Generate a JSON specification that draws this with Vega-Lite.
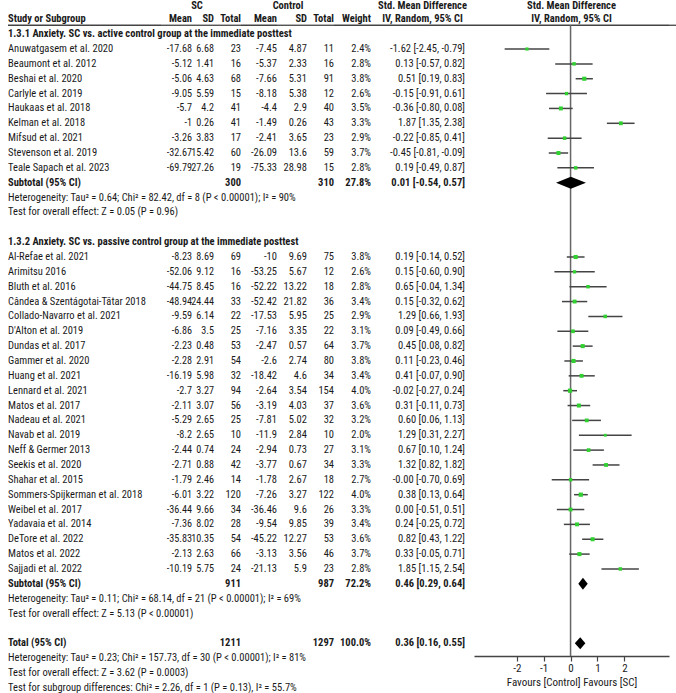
{
  "$schema": "https://vega.github.io/schema/vega-lite/v6.json",
  "padding": {"left": 7, "top": 0, "right": 0, "bottom": 0},
  "spacing": 0,
  "bounds": "flush",
  "config": {
    "view": {"stroke": null},
    "text": {"font": "Roboto Condensed, Noto Sans Condensed, DejaVu Sans Condensed, Liberation Sans Narrow, Arial Narrow, Liberation Sans, sans-serif", "fontSize": 10.5, "color": "#1a1a1a"},
    "axis": {"labelFont": "Roboto Condensed, Noto Sans Condensed, DejaVu Sans Condensed, Liberation Sans Narrow, Arial Narrow, Liberation Sans, sans-serif", "titleFont": "Roboto Condensed, Noto Sans Condensed, DejaVu Sans Condensed, Liberation Sans Narrow, Arial Narrow, Liberation Sans, sans-serif"}
  },
  "resolve": {"scale": {"x": "independent", "y": "independent"}},
  "datasets": {
    "rows": [
      {"row": 0, "type": "head", "name": "1.3.1 Anxiety. SC vs. active control group at the immediate posttest"},
      {"row": 1, "type": "study", "name": "Anuwatgasem et al. 2020", "m1": "-17.68", "sd1": "6.68", "n1": "23", "m2": "-7.45", "sd2": "4.87", "n2": "11", "w": "2.4%", "wt": 2.4, "ci": "-1.62 [-2.45, -0.79]", "est": -1.62, "lo": -2.45, "hi": -0.79},
      {"row": 2, "type": "study", "name": "Beaumont et al. 2012", "m1": "-5.12", "sd1": "1.41", "n1": "16", "m2": "-5.37", "sd2": "2.33", "n2": "16", "w": "2.8%", "wt": 2.8, "ci": "0.13 [-0.57, 0.82]", "est": 0.13, "lo": -0.57, "hi": 0.82},
      {"row": 3, "type": "study", "name": "Beshai et al. 2020", "m1": "-5.06", "sd1": "4.63", "n1": "68", "m2": "-7.66", "sd2": "5.31", "n2": "91", "w": "3.8%", "wt": 3.8, "ci": "0.51 [0.19, 0.83]", "est": 0.51, "lo": 0.19, "hi": 0.83},
      {"row": 4, "type": "study", "name": "Carlyle et al. 2019", "m1": "-9.05", "sd1": "5.59", "n1": "15", "m2": "-8.18", "sd2": "5.38", "n2": "12", "w": "2.6%", "wt": 2.6, "ci": "-0.15 [-0.91, 0.61]", "est": -0.15, "lo": -0.91, "hi": 0.61},
      {"row": 5, "type": "study", "name": "Haukaas et al. 2018", "m1": "-5.7", "sd1": "4.2", "n1": "41", "m2": "-4.4", "sd2": "2.9", "n2": "40", "w": "3.5%", "wt": 3.5, "ci": "-0.36 [-0.80, 0.08]", "est": -0.36, "lo": -0.80, "hi": 0.08},
      {"row": 6, "type": "study", "name": "Kelman et al. 2018", "m1": "-1", "sd1": "0.26", "n1": "41", "m2": "-1.49", "sd2": "0.26", "n2": "43", "w": "3.3%", "wt": 3.3, "ci": "1.87 [1.35, 2.38]", "est": 1.87, "lo": 1.35, "hi": 2.38},
      {"row": 7, "type": "study", "name": "Mifsud et al. 2021", "m1": "-3.26", "sd1": "3.83", "n1": "17", "m2": "-2.41", "sd2": "3.65", "n2": "23", "w": "2.9%", "wt": 2.9, "ci": "-0.22 [-0.85, 0.41]", "est": -0.22, "lo": -0.85, "hi": 0.41},
      {"row": 8, "type": "study", "name": "Stevenson et al. 2019", "m1": "-32.67", "sd1": "15.42", "n1": "60", "m2": "-26.09", "sd2": "13.6", "n2": "59", "w": "3.7%", "wt": 3.7, "ci": "-0.45 [-0.81, -0.09]", "est": -0.45, "lo": -0.81, "hi": -0.09},
      {"row": 9, "type": "study", "name": "Teale Sapach et al. 2023", "m1": "-69.79", "sd1": "27.26", "n1": "19", "m2": "-75.33", "sd2": "28.98", "n2": "15", "w": "2.8%", "wt": 2.8, "ci": "0.19 [-0.49, 0.87]", "est": 0.19, "lo": -0.49, "hi": 0.87},
      {"row": 10, "type": "sub", "name": "Subtotal (95% CI)", "n1": "300", "n2": "310", "w": "27.8%", "ci": "0.01 [-0.54, 0.57]", "est": 0.01, "lo": -0.54, "hi": 0.57},
      {"row": 11, "type": "note", "name": "Heterogeneity: Tau² = 0.64; Chi² = 82.42, df = 8 (P < 0.00001); I² = 90%"},
      {"row": 12, "type": "note", "name": "Test for overall effect: Z = 0.05 (P = 0.96)"},
      {"row": 14, "type": "head", "name": "1.3.2 Anxiety. SC vs. passive control group at the immediate posttest"},
      {"row": 15, "type": "study", "name": "Al-Refae et al. 2021", "m1": "-8.23", "sd1": "8.69", "n1": "69", "m2": "-10", "sd2": "9.69", "n2": "75", "w": "3.8%", "wt": 3.8, "ci": "0.19 [-0.14, 0.52]", "est": 0.19, "lo": -0.14, "hi": 0.52},
      {"row": 16, "type": "study", "name": "Arimitsu 2016", "m1": "-52.06", "sd1": "9.12", "n1": "16", "m2": "-53.25", "sd2": "5.67", "n2": "12", "w": "2.6%", "wt": 2.6, "ci": "0.15 [-0.60, 0.90]", "est": 0.15, "lo": -0.60, "hi": 0.90},
      {"row": 17, "type": "study", "name": "Bluth et al. 2016", "m1": "-44.75", "sd1": "8.45", "n1": "16", "m2": "-52.22", "sd2": "13.22", "n2": "18", "w": "2.8%", "wt": 2.8, "ci": "0.65 [-0.04, 1.34]", "est": 0.65, "lo": -0.04, "hi": 1.34},
      {"row": 18, "type": "study", "name": "Cândea & Szentágotai-Tătar 2018", "m1": "-48.94", "sd1": "24.44", "n1": "33", "m2": "-52.42", "sd2": "21.82", "n2": "36", "w": "3.4%", "wt": 3.4, "ci": "0.15 [-0.32, 0.62]", "est": 0.15, "lo": -0.32, "hi": 0.62},
      {"row": 19, "type": "study", "name": "Collado-Navarro et al. 2021", "m1": "-9.59", "sd1": "6.14", "n1": "22", "m2": "-17.53", "sd2": "5.95", "n2": "25", "w": "2.9%", "wt": 2.9, "ci": "1.29 [0.66, 1.93]", "est": 1.29, "lo": 0.66, "hi": 1.93},
      {"row": 20, "type": "study", "name": "D'Alton et al. 2019", "m1": "-6.86", "sd1": "3.5", "n1": "25", "m2": "-7.16", "sd2": "3.35", "n2": "22", "w": "3.1%", "wt": 3.1, "ci": "0.09 [-0.49, 0.66]", "est": 0.09, "lo": -0.49, "hi": 0.66},
      {"row": 21, "type": "study", "name": "Dundas et al. 2017", "m1": "-2.23", "sd1": "0.48", "n1": "53", "m2": "-2.47", "sd2": "0.57", "n2": "64", "w": "3.7%", "wt": 3.7, "ci": "0.45 [0.08, 0.82]", "est": 0.45, "lo": 0.08, "hi": 0.82},
      {"row": 22, "type": "study", "name": "Gammer et al. 2020", "m1": "-2.28", "sd1": "2.91", "n1": "54", "m2": "-2.6", "sd2": "2.74", "n2": "80", "w": "3.8%", "wt": 3.8, "ci": "0.11 [-0.23, 0.46]", "est": 0.11, "lo": -0.23, "hi": 0.46},
      {"row": 23, "type": "study", "name": "Huang et al. 2021", "m1": "-16.19", "sd1": "5.98", "n1": "32", "m2": "-18.42", "sd2": "4.6", "n2": "34", "w": "3.4%", "wt": 3.4, "ci": "0.41 [-0.07, 0.90]", "est": 0.41, "lo": -0.07, "hi": 0.90},
      {"row": 24, "type": "study", "name": "Lennard et al. 2021", "m1": "-2.7", "sd1": "3.27", "n1": "94", "m2": "-2.64", "sd2": "3.54", "n2": "154", "w": "4.0%", "wt": 4.0, "ci": "-0.02 [-0.27, 0.24]", "est": -0.02, "lo": -0.27, "hi": 0.24},
      {"row": 25, "type": "study", "name": "Matos et al. 2017", "m1": "-2.11", "sd1": "3.07", "n1": "56", "m2": "-3.19", "sd2": "4.03", "n2": "37", "w": "3.6%", "wt": 3.6, "ci": "0.31 [-0.11, 0.73]", "est": 0.31, "lo": -0.11, "hi": 0.73},
      {"row": 26, "type": "study", "name": "Nadeau et al. 2021", "m1": "-5.29", "sd1": "2.65", "n1": "25", "m2": "-7.81", "sd2": "5.02", "n2": "32", "w": "3.2%", "wt": 3.2, "ci": "0.60 [0.06, 1.13]", "est": 0.60, "lo": 0.06, "hi": 1.13},
      {"row": 27, "type": "study", "name": "Navab et al. 2019", "m1": "-8.2", "sd1": "2.65", "n1": "10", "m2": "-11.9", "sd2": "2.84", "n2": "10", "w": "2.0%", "wt": 2.0, "ci": "1.29 [0.31, 2.27]", "est": 1.29, "lo": 0.31, "hi": 2.27},
      {"row": 28, "type": "study", "name": "Neff & Germer 2013", "m1": "-2.44", "sd1": "0.74", "n1": "24", "m2": "-2.94", "sd2": "0.73", "n2": "27", "w": "3.1%", "wt": 3.1, "ci": "0.67 [0.10, 1.24]", "est": 0.67, "lo": 0.10, "hi": 1.24},
      {"row": 29, "type": "study", "name": "Seekis et al. 2020", "m1": "-2.71", "sd1": "0.88", "n1": "42", "m2": "-3.77", "sd2": "0.67", "n2": "34", "w": "3.3%", "wt": 3.3, "ci": "1.32 [0.82, 1.82]", "est": 1.32, "lo": 0.82, "hi": 1.82},
      {"row": 30, "type": "study", "name": "Shahar et al. 2015", "m1": "-1.79", "sd1": "2.46", "n1": "14", "m2": "-1.78", "sd2": "2.67", "n2": "18", "w": "2.7%", "wt": 2.7, "ci": "-0.00 [-0.70, 0.69]", "est": 0.0, "lo": -0.70, "hi": 0.69},
      {"row": 31, "type": "study", "name": "Sommers-Spijkerman et al. 2018", "m1": "-6.01", "sd1": "3.22", "n1": "120", "m2": "-7.26", "sd2": "3.27", "n2": "122", "w": "4.0%", "wt": 4.0, "ci": "0.38 [0.13, 0.64]", "est": 0.38, "lo": 0.13, "hi": 0.64},
      {"row": 32, "type": "study", "name": "Weibel et al. 2017", "m1": "-36.44", "sd1": "9.66", "n1": "34", "m2": "-36.46", "sd2": "9.6", "n2": "26", "w": "3.3%", "wt": 3.3, "ci": "0.00 [-0.51, 0.51]", "est": 0.0, "lo": -0.51, "hi": 0.51},
      {"row": 33, "type": "study", "name": "Yadavaia et al. 2014", "m1": "-7.36", "sd1": "8.02", "n1": "28", "m2": "-9.54", "sd2": "9.85", "n2": "39", "w": "3.4%", "wt": 3.4, "ci": "0.24 [-0.25, 0.72]", "est": 0.24, "lo": -0.25, "hi": 0.72},
      {"row": 34, "type": "study", "name": "DeTore et al. 2022", "m1": "-35.83", "sd1": "10.35", "n1": "54", "m2": "-45.22", "sd2": "12.27", "n2": "53", "w": "3.6%", "wt": 3.6, "ci": "0.82 [0.43, 1.22]", "est": 0.82, "lo": 0.43, "hi": 1.22},
      {"row": 35, "type": "study", "name": "Matos et al. 2022", "m1": "-2.13", "sd1": "2.63", "n1": "66", "m2": "-3.13", "sd2": "3.56", "n2": "46", "w": "3.7%", "wt": 3.7, "ci": "0.33 [-0.05, 0.71]", "est": 0.33, "lo": -0.05, "hi": 0.71},
      {"row": 36, "type": "study", "name": "Sajjadi et al. 2022", "m1": "-10.19", "sd1": "5.75", "n1": "24", "m2": "-21.13", "sd2": "5.9", "n2": "23", "w": "2.8%", "wt": 2.8, "ci": "1.85 [1.15, 2.54]", "est": 1.85, "lo": 1.15, "hi": 2.54},
      {"row": 37, "type": "sub", "name": "Subtotal (95% CI)", "n1": "911", "n2": "987", "w": "72.2%", "ci": "0.46 [0.29, 0.64]", "est": 0.46, "lo": 0.29, "hi": 0.64},
      {"row": 38, "type": "note", "name": "Heterogeneity: Tau² = 0.11; Chi² = 68.14, df = 21 (P < 0.00001); I² = 69%"},
      {"row": 39, "type": "note", "name": "Test for overall effect: Z = 5.13 (P < 0.00001)"},
      {"row": 41, "type": "sub", "name": "Total (95% CI)", "n1": "1211", "n2": "1297", "w": "100.0%", "ci": "0.36 [0.16, 0.55]", "est": 0.36, "lo": 0.16, "hi": 0.55},
      {"row": 42, "type": "note", "name": "Heterogeneity: Tau² = 0.23; Chi² = 157.73, df = 30 (P < 0.00001); I² = 81%"},
      {"row": 43, "type": "note", "name": "Test for overall effect: Z = 3.62 (P = 0.0003)"},
      {"row": 44, "type": "note", "name": "Test for subgroup differences: Chi² = 2.26, df = 1 (P = 0.13), I² = 55.7%"}
    ]
  },
  "hconcat": [
    {
      "width": 153, "height": 693, "data": {"name": "rows"},
      "layer": [
        {"data": {"values": [{"row": -0.6}]}, "mark": {"type": "rule", "color": "#444", "strokeWidth": 1.3}, "encoding": {"y": {"field": "row", "type": "quantitative", "scale": {"domain": [-2.3, 44.35], "reverse": true, "nice": false, "zero": false}, "axis": null}}},
        {"data": {"values": [{"row": -1, "h": "Study or Subgroup"}]}, "mark": {"type": "text", "align": "left", "baseline": "middle", "fontWeight": "bold"}, "encoding": {"x": {"value": 0}, "y": {"field": "row", "type": "quantitative", "scale": {"domain": [-2.3, 44.35], "reverse": true, "nice": false, "zero": false}, "axis": null}, "text": {"field": "h"}}},
        {"transform": [{"filter": "datum.type === 'study' || datum.type === 'note'"}], "mark": {"type": "text", "align": "left", "baseline": "middle"}, "encoding": {"x": {"value": 0}, "y": {"field": "row", "type": "quantitative", "scale": {"domain": [-2.3, 44.35], "reverse": true, "nice": false, "zero": false}, "axis": null}, "text": {"field": "name"}}},
        {"transform": [{"filter": "datum.type === 'head' || datum.type === 'sub'"}], "mark": {"type": "text", "align": "left", "baseline": "middle", "fontWeight": "bold"}, "encoding": {"x": {"value": 0}, "y": {"field": "row", "type": "quantitative", "scale": {"domain": [-2.3, 44.35], "reverse": true, "nice": false, "zero": false}, "axis": null}, "text": {"field": "name"}}}
      ]
    },
    {
      "width": 31, "height": 693, "data": {"name": "rows"},
      "layer": [
        {"data": {"values": [{"row": -0.6}]}, "mark": {"type": "rule", "color": "#444", "strokeWidth": 1.3}, "encoding": {"y": {"field": "row", "type": "quantitative", "scale": {"domain": [-2.3, 44.35], "reverse": true, "nice": false, "zero": false}, "axis": null}}},
        {"data": {"values": [{"row": -1, "h": "Mean"}]}, "mark": {"type": "text", "align": "right", "baseline": "middle", "fontWeight": "bold"}, "encoding": {"x": {"value": "width"}, "y": {"field": "row", "type": "quantitative", "scale": {"domain": [-2.3, 44.35], "reverse": true, "nice": false, "zero": false}, "axis": null}, "text": {"field": "h"}}},
        {"transform": [{"filter": "datum.type === 'study'"}], "mark": {"type": "text", "align": "right", "baseline": "middle", "fontSize": 10.2}, "encoding": {"x": {"value": "width"}, "y": {"field": "row", "type": "quantitative", "scale": {"domain": [-2.3, 44.35], "reverse": true, "nice": false, "zero": false}, "axis": null}, "text": {"field": "m1"}}}
      ]
    },
    {
      "width": 22, "height": 693, "data": {"name": "rows"},
      "layer": [
        {"data": {"values": [{"row": -0.6}]}, "mark": {"type": "rule", "color": "#444", "strokeWidth": 1.3}, "encoding": {"y": {"field": "row", "type": "quantitative", "scale": {"domain": [-2.3, 44.35], "reverse": true, "nice": false, "zero": false}, "axis": null}}},
        {"data": {"values": [{"row": -1.9, "h": "SC"}]}, "mark": {"type": "text", "align": "center", "baseline": "middle", "fontWeight": "bold", "dx": -6}, "encoding": {"y": {"field": "row", "type": "quantitative", "scale": {"domain": [-2.3, 44.35], "reverse": true, "nice": false, "zero": false}, "axis": null}, "text": {"field": "h"}}},
        {"data": {"values": [{"row": -1, "h": "SD"}]}, "mark": {"type": "text", "align": "right", "baseline": "middle", "fontWeight": "bold"}, "encoding": {"x": {"value": "width"}, "y": {"field": "row", "type": "quantitative", "scale": {"domain": [-2.3, 44.35], "reverse": true, "nice": false, "zero": false}, "axis": null}, "text": {"field": "h"}}},
        {"transform": [{"filter": "datum.type === 'study'"}], "mark": {"type": "text", "align": "right", "baseline": "middle", "fontSize": 10.2}, "encoding": {"x": {"value": "width"}, "y": {"field": "row", "type": "quantitative", "scale": {"domain": [-2.3, 44.35], "reverse": true, "nice": false, "zero": false}, "axis": null}, "text": {"field": "sd1"}}}
      ]
    },
    {
      "width": 27, "height": 693, "data": {"name": "rows"},
      "layer": [
        {"data": {"values": [{"row": -0.6}]}, "mark": {"type": "rule", "color": "#444", "strokeWidth": 1.3}, "encoding": {"y": {"field": "row", "type": "quantitative", "scale": {"domain": [-2.3, 44.35], "reverse": true, "nice": false, "zero": false}, "axis": null}}},
        {"data": {"values": [{"row": -1, "h": "Total"}]}, "mark": {"type": "text", "align": "right", "baseline": "middle", "fontWeight": "bold"}, "encoding": {"x": {"value": "width"}, "y": {"field": "row", "type": "quantitative", "scale": {"domain": [-2.3, 44.35], "reverse": true, "nice": false, "zero": false}, "axis": null}, "text": {"field": "h"}}},
        {"transform": [{"filter": "datum.type === 'study'"}], "mark": {"type": "text", "align": "right", "baseline": "middle"}, "encoding": {"x": {"value": "width"}, "y": {"field": "row", "type": "quantitative", "scale": {"domain": [-2.3, 44.35], "reverse": true, "nice": false, "zero": false}, "axis": null}, "text": {"field": "n1"}}},
        {"transform": [{"filter": "datum.type === 'sub'"}], "mark": {"type": "text", "align": "right", "baseline": "middle", "fontWeight": "bold"}, "encoding": {"x": {"value": "width"}, "y": {"field": "row", "type": "quantitative", "scale": {"domain": [-2.3, 44.35], "reverse": true, "nice": false, "zero": false}, "axis": null}, "text": {"field": "n1"}}}
      ]
    },
    {
      "width": 36, "height": 693, "data": {"name": "rows"},
      "layer": [
        {"data": {"values": [{"row": -0.6}]}, "mark": {"type": "rule", "color": "#444", "strokeWidth": 1.3}, "encoding": {"y": {"field": "row", "type": "quantitative", "scale": {"domain": [-2.3, 44.35], "reverse": true, "nice": false, "zero": false}, "axis": null}}},
        {"data": {"values": [{"row": -1, "h": "Mean"}]}, "mark": {"type": "text", "align": "right", "baseline": "middle", "fontWeight": "bold"}, "encoding": {"x": {"value": "width"}, "y": {"field": "row", "type": "quantitative", "scale": {"domain": [-2.3, 44.35], "reverse": true, "nice": false, "zero": false}, "axis": null}, "text": {"field": "h"}}},
        {"transform": [{"filter": "datum.type === 'study'"}], "mark": {"type": "text", "align": "right", "baseline": "middle"}, "encoding": {"x": {"value": "width"}, "y": {"field": "row", "type": "quantitative", "scale": {"domain": [-2.3, 44.35], "reverse": true, "nice": false, "zero": false}, "axis": null}, "text": {"field": "m2"}}}
      ]
    },
    {
      "width": 30, "height": 693, "data": {"name": "rows"},
      "layer": [
        {"data": {"values": [{"row": -0.6}]}, "mark": {"type": "rule", "color": "#444", "strokeWidth": 1.3}, "encoding": {"y": {"field": "row", "type": "quantitative", "scale": {"domain": [-2.3, 44.35], "reverse": true, "nice": false, "zero": false}, "axis": null}}},
        {"data": {"values": [{"row": -1.9, "h": "Control"}]}, "mark": {"type": "text", "align": "center", "baseline": "middle", "fontWeight": "bold", "dx": -4}, "encoding": {"y": {"field": "row", "type": "quantitative", "scale": {"domain": [-2.3, 44.35], "reverse": true, "nice": false, "zero": false}, "axis": null}, "text": {"field": "h"}}},
        {"data": {"values": [{"row": -1, "h": "SD"}]}, "mark": {"type": "text", "align": "right", "baseline": "middle", "fontWeight": "bold"}, "encoding": {"x": {"value": "width"}, "y": {"field": "row", "type": "quantitative", "scale": {"domain": [-2.3, 44.35], "reverse": true, "nice": false, "zero": false}, "axis": null}, "text": {"field": "h"}}},
        {"transform": [{"filter": "datum.type === 'study'"}], "mark": {"type": "text", "align": "right", "baseline": "middle"}, "encoding": {"x": {"value": "width"}, "y": {"field": "row", "type": "quantitative", "scale": {"domain": [-2.3, 44.35], "reverse": true, "nice": false, "zero": false}, "axis": null}, "text": {"field": "sd2"}}}
      ]
    },
    {
      "width": 27, "height": 693, "data": {"name": "rows"},
      "layer": [
        {"data": {"values": [{"row": -0.6}]}, "mark": {"type": "rule", "color": "#444", "strokeWidth": 1.3}, "encoding": {"y": {"field": "row", "type": "quantitative", "scale": {"domain": [-2.3, 44.35], "reverse": true, "nice": false, "zero": false}, "axis": null}}},
        {"data": {"values": [{"row": -1, "h": "Total"}]}, "mark": {"type": "text", "align": "right", "baseline": "middle", "fontWeight": "bold"}, "encoding": {"x": {"value": "width"}, "y": {"field": "row", "type": "quantitative", "scale": {"domain": [-2.3, 44.35], "reverse": true, "nice": false, "zero": false}, "axis": null}, "text": {"field": "h"}}},
        {"transform": [{"filter": "datum.type === 'study'"}], "mark": {"type": "text", "align": "right", "baseline": "middle"}, "encoding": {"x": {"value": "width"}, "y": {"field": "row", "type": "quantitative", "scale": {"domain": [-2.3, 44.35], "reverse": true, "nice": false, "zero": false}, "axis": null}, "text": {"field": "n2"}}},
        {"transform": [{"filter": "datum.type === 'sub'"}], "mark": {"type": "text", "align": "right", "baseline": "middle", "fontWeight": "bold"}, "encoding": {"x": {"value": "width"}, "y": {"field": "row", "type": "quantitative", "scale": {"domain": [-2.3, 44.35], "reverse": true, "nice": false, "zero": false}, "axis": null}, "text": {"field": "n2"}}}
      ]
    },
    {
      "width": 37, "height": 693, "data": {"name": "rows"},
      "layer": [
        {"data": {"values": [{"row": -0.6}]}, "mark": {"type": "rule", "color": "#444", "strokeWidth": 1.3}, "encoding": {"y": {"field": "row", "type": "quantitative", "scale": {"domain": [-2.3, 44.35], "reverse": true, "nice": false, "zero": false}, "axis": null}}},
        {"data": {"values": [{"row": -1, "h": "Weight"}]}, "mark": {"type": "text", "align": "right", "baseline": "middle", "fontWeight": "bold"}, "encoding": {"x": {"value": "width"}, "y": {"field": "row", "type": "quantitative", "scale": {"domain": [-2.3, 44.35], "reverse": true, "nice": false, "zero": false}, "axis": null}, "text": {"field": "h"}}},
        {"transform": [{"filter": "datum.type === 'study'"}], "mark": {"type": "text", "align": "right", "baseline": "middle"}, "encoding": {"x": {"value": "width"}, "y": {"field": "row", "type": "quantitative", "scale": {"domain": [-2.3, 44.35], "reverse": true, "nice": false, "zero": false}, "axis": null}, "text": {"field": "w"}}},
        {"transform": [{"filter": "datum.type === 'sub'"}], "mark": {"type": "text", "align": "right", "baseline": "middle", "fontWeight": "bold"}, "encoding": {"x": {"value": "width"}, "y": {"field": "row", "type": "quantitative", "scale": {"domain": [-2.3, 44.35], "reverse": true, "nice": false, "zero": false}, "axis": null}, "text": {"field": "w"}}}
      ]
    },
    {
      "width": 103, "height": 693, "data": {"name": "rows"},
      "layer": [
        {"data": {"values": [{"row": -0.6}]}, "mark": {"type": "rule", "color": "#444", "strokeWidth": 1.3}, "encoding": {"y": {"field": "row", "type": "quantitative", "scale": {"domain": [-2.3, 44.35], "reverse": true, "nice": false, "zero": false}, "axis": null}}},
        {"data": {"values": [{"row": -1.9, "h": "Std. Mean Difference"}, {"row": -1, "h": "IV, Random, 95% CI"}]}, "mark": {"type": "text", "align": "center", "baseline": "middle", "fontWeight": "bold"}, "encoding": {"y": {"field": "row", "type": "quantitative", "scale": {"domain": [-2.3, 44.35], "reverse": true, "nice": false, "zero": false}, "axis": null}, "text": {"field": "h"}}},
        {"transform": [{"filter": "datum.type === 'study'"}], "mark": {"type": "text", "align": "right", "baseline": "middle", "dx": -9}, "encoding": {"x": {"value": "width"}, "y": {"field": "row", "type": "quantitative", "scale": {"domain": [-2.3, 44.35], "reverse": true, "nice": false, "zero": false}, "axis": null}, "text": {"field": "ci"}}},
        {"transform": [{"filter": "datum.type === 'sub'"}], "mark": {"type": "text", "align": "right", "baseline": "middle", "fontWeight": "bold", "dx": -9}, "encoding": {"x": {"value": "width"}, "y": {"field": "row", "type": "quantitative", "scale": {"domain": [-2.3, 44.35], "reverse": true, "nice": false, "zero": false}, "axis": null}, "text": {"field": "ci"}}}
      ]
    },
    {
      "width": 195, "height": 656, "data": {"name": "rows"},
      "layer": [
        {"data": {"values": [{"row": -0.6}]}, "mark": {"type": "rule", "color": "#444", "strokeWidth": 1.3}, "encoding": {"y": {"field": "row", "type": "quantitative", "scale": {"domain": [-2.3, 41.86], "reverse": true, "nice": false, "zero": false}, "axis": null}}},
        {"data": {"values": [{"row": -1.9, "h": "Std. Mean Difference"}, {"row": -1, "h": "IV, Random, 95% CI"}]}, "mark": {"type": "text", "align": "center", "baseline": "middle", "fontWeight": "bold"}, "encoding": {"y": {"field": "row", "type": "quantitative", "scale": {"domain": [-2.3, 41.86], "reverse": true, "nice": false, "zero": false}, "axis": null}, "text": {"field": "h"}}},
        {"data": {"values": [{"x": 0, "top": -0.6, "bottom": 41.86}]}, "mark": {"type": "rule", "color": "#666", "strokeWidth": 1.5}, "encoding": {
          "x": {"field": "x", "type": "quantitative", "scale": {"domain": [-3.59, 3.66], "nice": false, "zero": false}, "axis": {"values": [-2, -1, 0, 1, 2], "labelExpr": "'' + datum.value", "title": "Favours [Control]   Favours [SC]", "labelFontSize": 11, "titleFontSize": 11, "titleFontWeight": "normal", "titleColor": "#1a1a1a", "labelColor": "#1a1a1a", "domainColor": "#444", "domainWidth": 1.5, "tickColor": "#444", "tickWidth": 1.2, "tickSize": 5, "labelPadding": 1, "titlePadding": 3, "grid": false, "labelFlush": false}},
          "y": {"field": "top", "type": "quantitative", "scale": {"domain": [-2.3, 41.86], "reverse": true, "nice": false, "zero": false}, "axis": null},
          "y2": {"field": "bottom"}}},
        {"transform": [{"filter": "datum.type === 'study'"}], "mark": {"type": "rule", "color": "#444", "strokeWidth": 1.5}, "encoding": {
          "x": {"field": "lo", "type": "quantitative", "scale": {"domain": [-3.59, 3.66], "nice": false, "zero": false}, "axis": {"values": [-2, -1, 0, 1, 2], "labelExpr": "'' + datum.value", "title": "Favours [Control]   Favours [SC]", "labelFontSize": 11, "titleFontSize": 11, "titleFontWeight": "normal", "titleColor": "#1a1a1a", "labelColor": "#1a1a1a", "domainColor": "#444", "domainWidth": 1.5, "tickColor": "#444", "tickWidth": 1.2, "tickSize": 5, "labelPadding": 1, "titlePadding": 3, "grid": false, "labelFlush": false}},
          "x2": {"field": "hi"},
          "y": {"field": "row", "type": "quantitative", "scale": {"domain": [-2.3, 41.86], "reverse": true, "nice": false, "zero": false}, "axis": null}}},
        {"transform": [{"filter": "datum.type === 'study'"}], "mark": {"type": "square", "filled": true, "color": "#2fd02f", "opacity": 1}, "encoding": {
          "x": {"field": "est", "type": "quantitative", "scale": {"domain": [-3.59, 3.66], "nice": false, "zero": false}, "axis": {"values": [-2, -1, 0, 1, 2], "labelExpr": "'' + datum.value", "title": "Favours [Control]   Favours [SC]", "labelFontSize": 11, "titleFontSize": 11, "titleFontWeight": "normal", "titleColor": "#1a1a1a", "labelColor": "#1a1a1a", "domainColor": "#444", "domainWidth": 1.5, "tickColor": "#444", "tickWidth": 1.2, "tickSize": 5, "labelPadding": 1, "titlePadding": 3, "grid": false, "labelFlush": false}},
          "y": {"field": "row", "type": "quantitative", "scale": {"domain": [-2.3, 41.86], "reverse": true, "nice": false, "zero": false}, "axis": null},
          "size": {"field": "wt", "type": "quantitative", "scale": {"domain": [2, 4], "range": [8, 18], "zero": false}, "legend": null}}},
        {"transform": [{"filter": "datum.type === 'sub'"}],
          "mark": {"type": "point", "filled": true, "color": "black", "opacity": 1, "size": 1024},
          "encoding": {
            "x": {"field": "est", "type": "quantitative", "scale": {"domain": [-3.59, 3.66], "nice": false, "zero": false}, "axis": {"values": [-2, -1, 0, 1, 2], "labelExpr": "'' + datum.value", "title": "Favours [Control]   Favours [SC]", "labelFontSize": 11, "titleFontSize": 11, "titleFontWeight": "normal", "titleColor": "#1a1a1a", "labelColor": "#1a1a1a", "domainColor": "#444", "domainWidth": 1.5, "tickColor": "#444", "tickWidth": 1.2, "tickSize": 5, "labelPadding": 1, "titlePadding": 3, "grid": false, "labelFlush": false}},
            "y": {"field": "row", "type": "quantitative", "scale": {"domain": [-2.3, 41.86], "reverse": true, "nice": false, "zero": false}, "axis": null},
            "shape": {"field": "row", "type": "nominal", "scale": {"domain": [10, 37, 41], "range": ["M-0.925,0L0,-0.375L0.944,0L0,0.375Z", "M-0.29,0L0,-0.375L0.3,0L0,0.375Z", "M-0.34,0L0,-0.375L0.32,0L0,0.375Z"]}, "legend": null}
          }}
      ]
    },
    {
      "width": 8, "height": 693,
      "data": {"values": [{"row": -0.6}]},
      "mark": {"type": "rule", "color": "#444", "strokeWidth": 1.3},
      "encoding": {"y": {"field": "row", "type": "quantitative", "scale": {"domain": [-2.3, 44.35], "reverse": true, "nice": false, "zero": false}, "axis": null}}
    }
  ]
}
